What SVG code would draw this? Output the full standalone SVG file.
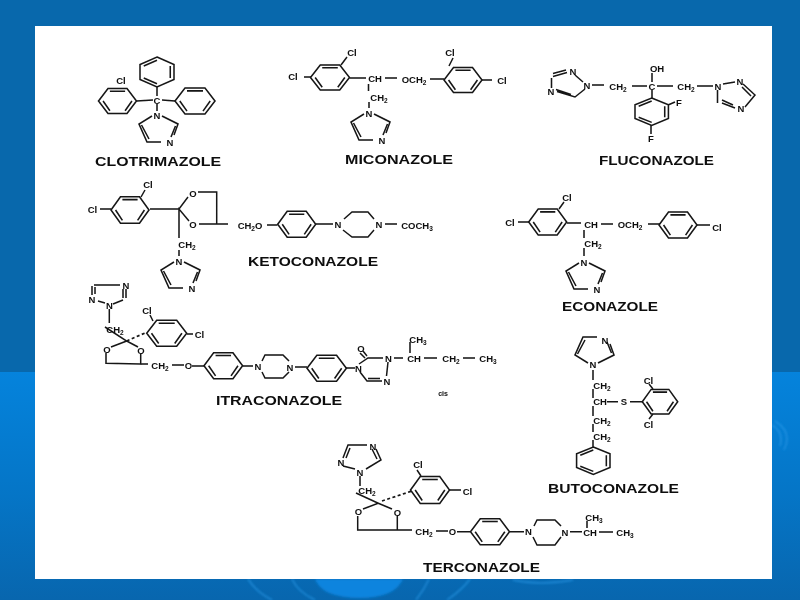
<svg xmlns="http://www.w3.org/2000/svg" xmlns:xlink="http://www.w3.org/1999/xlink" width="800" height="600" viewBox="0 0 800 600">
<defs>
<linearGradient id="low" x1="0" y1="0" x2="0" y2="1"><stop offset="0" stop-color="#0583dc"/><stop offset="0.55" stop-color="#0575c6"/><stop offset="1" stop-color="#0866ae"/></linearGradient>
<filter id="soft" x="-2%" y="-2%" width="104%" height="104%"><feGaussianBlur stdDeviation="0.4"/></filter>
<filter id="glow" x="-10%" y="-10%" width="120%" height="120%"><feGaussianBlur stdDeviation="1"/></filter>
<g id="hexF" class="b"><polygon points="-10,0 -5,-10 5,-10 10,0 5,10 -5,10"/><path d="M-4,-7.800H4M7.600,0L4,7.800M-4,7.800L-7.600,0"/></g>
<g id="hexP" class="b"><polygon points="0,-10 10,-5 10,5 0,10 -10,5 -10,-5"/><path d="M-7.800,-4L0,-7.800M7.800,-4V4M-7.800,4L0,7.800"/></g>
<g id="imid" class="b"><path d="M5,1L21,9L17,20M4,27H-10L-18,9L-5,1"/><path d="M-15.500,10L-8,24M18.500,11L14,22"/></g>
</defs>
<style>
.b,.b *{fill:none;stroke:#161616;stroke-width:1.55;vector-effect:non-scaling-stroke}
.w *{fill:none;stroke:#161616;stroke-width:1.5}
.d{fill:none;stroke:#161616;stroke-width:1.7;stroke-dasharray:3 2.500}
text{font-family:"Liberation Sans",Arial,sans-serif;fill:#0c0c0c;font-weight:700}
.a{font-size:9.500px;text-anchor:middle}
.t{font-size:12.500px}
.c{font-size:7px;text-anchor:middle}
</style>

<g id="background">
<rect width="800" height="600" fill="#0868ac"/>
<rect y="372" width="800" height="228" fill="url(#low)"/>
<g fill="none" stroke="#2a9ae8" stroke-width="1.500" opacity="0.7" filter="url(#glow)">
<path d="M248,579Q256,592 272,600M292,579Q298,592 315,600M429,579Q424,590 416,600M470,579Q462,590 447,600M513,580Q540,586 573,580"/>
<path d="M772,425Q784,432 780,446M775,421Q793,432 784,450"/>
</g>
<path d="M315,579Q322,598 360,598Q395,598 403,579Z" fill="#0b84de" filter="url(#glow)"/>
<rect x="35" y="26" width="737" height="553" fill="#ffffff"/>
</g>

<g id="structures" filter="url(#soft)">

<g id="clotrimazole">
<use xlink:href="#hexP" transform="translate(157,72) scale(1.7,1.5)"/>
<use xlink:href="#hexF" transform="translate(117.500,101) scale(1.9,1.25)"/>
<use xlink:href="#hexF" transform="translate(195,101) scale(2,1.3)"/>
<use xlink:href="#imid" transform="translate(157,115)"/>
<g class="w"><path d="M157,87V96M136.500,101L153,100M162,100L175,101M157,104V111"/></g>
<text class="a" x="157" y="104">C</text><text class="a" x="121" y="83.500">Cl</text>
<text class="a" x="157" y="118.500">N</text><text class="a" x="170" y="145.500">N</text>
<text class="t" x="95" y="165.500" textLength="126" lengthAdjust="spacingAndGlyphs">CLOTRIMAZOLE</text>
</g>

<g id="miconazole">
<use xlink:href="#hexF" transform="translate(330,77.500) scale(1.95,1.25)"/>
<use xlink:href="#hexF" transform="translate(463,80) scale(1.9,1.25)"/>
<use xlink:href="#imid" transform="translate(369,113)"/>
<g class="w"><path d="M349.500,78H366M385,78H397M430,79H444M304,77H311M341,65L347,57M482,80H492M368.500,84V91M369,102V108M449,66L453,58"/></g>
<text class="a" x="293" y="80">Cl</text><text class="a" x="352" y="56">Cl</text>
<text class="a" x="375" y="81.500">CH</text><text class="a" x="414" y="82.500">OCH<tspan font-size="6.500" dy="2">2</tspan></text>
<text class="a" x="450" y="56">Cl</text><text class="a" x="502" y="83.500">Cl</text>
<text class="a" x="379" y="100.500">CH<tspan font-size="6.500" dy="2">2</tspan></text>
<text class="a" x="369" y="116.500">N</text><text class="a" x="382" y="143.500">N</text>
<text class="t" x="345" y="163.500" textLength="108" lengthAdjust="spacingAndGlyphs">MICONAZOLE</text>
</g>

<g id="fluconazole">
<use xlink:href="#hexP" transform="translate(651.700,111.700) scale(1.67,1.37)"/>
<g class="w">
<path d="M553,76.500L567,72.500M553,73.500L566,70M551.500,78V88M575,75L583,82M585,89L575,97L557,91.500M556,89.500L571,94.500"/>
<path d="M592,85H604M632,86H647M657,86H673M697,86H713M652,73V82M652,90V98M668,105L675,102M651,125V134"/>
<path d="M723,84L735,82M743,84L755,95L745,107M742,87L751,96M735,108L722,103M733,105L722,100M717.500,90V103"/>
</g>
<text class="a" x="573" y="75">N</text><text class="a" x="551" y="95">N</text><text class="a" x="587" y="88.500">N</text>
<text class="a" x="618" y="89.500">CH<tspan font-size="6.500" dy="2">2</tspan></text>
<text class="a" x="652" y="90">C</text><text class="a" x="657" y="72">OH</text>
<text class="a" x="686" y="89.500">CH<tspan font-size="6.500" dy="2">2</tspan></text>
<text class="a" x="718" y="90">N</text><text class="a" x="740" y="84.500">N</text><text class="a" x="741" y="111.500">N</text>
<text class="a" x="679" y="105.500">F</text><text class="a" x="651" y="141.500">F</text>
<text class="t" x="599" y="165" textLength="115" lengthAdjust="spacingAndGlyphs">FLUCONAZOLE</text>
</g>

<g id="ketoconazole">
<use xlink:href="#hexF" transform="translate(130,210) scale(1.9,1.33)"/>
<use xlink:href="#hexF" transform="translate(296.700,224.300) scale(1.9,1.3)"/>
<use xlink:href="#imid" transform="translate(179,261)"/>
<g class="w">
<path d="M141,197L145,190M100,209H111M150,209H179L188,197M198,192H216.700V224M216.700,224H228M216.700,224H199M189,221L179,209V238M179,250V256M267,225H277.500M316,224H333M344,219L352,212H368L374,219M374,230L368,237H352L343,230M385,224H397"/>
</g>
<text class="a" x="148" y="187.500">Cl</text><text class="a" x="92.500" y="212.500">Cl</text>
<text class="a" x="193" y="196.500">O</text><text class="a" x="193" y="228">O</text>
<text class="a" x="250" y="228.500">CH<tspan font-size="6.500" dy="2">2</tspan><tspan dy="-2">O</tspan></text>
<text class="a" x="338" y="228">N</text><text class="a" x="379" y="228">N</text>
<text class="a" x="417" y="228.500">COCH<tspan font-size="6.500" dy="2">3</tspan></text>
<text class="a" x="187" y="247.500">CH<tspan font-size="6.500" dy="2">2</tspan></text>
<text class="a" x="179" y="264.500">N</text><text class="a" x="192" y="291.500">N</text>
<text class="t" x="248" y="266" textLength="130" lengthAdjust="spacingAndGlyphs">KETOCONAZOLE</text>
</g>

<g id="econazole">
<use xlink:href="#hexF" transform="translate(547.700,222) scale(1.9,1.3)"/>
<use xlink:href="#hexF" transform="translate(678,225) scale(1.9,1.3)"/>
<use xlink:href="#imid" transform="translate(584,262)"/>
<g class="w"><path d="M559,209L564,202M518,222H529M567,223H581M601,224H613M648,224H660M697,225H710M584,230V238M584,248V256"/></g>
<text class="a" x="567" y="201">Cl</text><text class="a" x="510" y="225.500">Cl</text>
<text class="a" x="591" y="227.500">CH</text><text class="a" x="630" y="227.500">OCH<tspan font-size="6.500" dy="2">2</tspan></text>
<text class="a" x="717" y="230.500">Cl</text>
<text class="a" x="593" y="246.500">CH<tspan font-size="6.500" dy="2">2</tspan></text>
<text class="a" x="584" y="265.500">N</text><text class="a" x="597" y="292.500">N</text>
<text class="t" x="562" y="311" textLength="96" lengthAdjust="spacingAndGlyphs">ECONAZOLE</text>
</g>

<g id="itraconazole">
<use xlink:href="#hexF" transform="translate(166.700,333.300) scale(2,1.3)"/>
<use xlink:href="#hexF" transform="translate(223.300,365.700) scale(1.93,1.3)"/>
<use xlink:href="#hexF" transform="translate(326.700,368.300) scale(1.97,1.3)"/>
<g class="w">
<path d="M94,285H120M92,286V295M95,287V294M98,301L105,303M123,289V298M126,289V298M123,300L113,304M109.300,309V323"/>
<path d="M105,327L126.700,341L111,347M126.700,341L138,347M106,353V363.300L140.700,364V354"/>
<path d="M140.700,364H148M172,365H184M192,366H204M243,366H253M262,361L265,355H283L289,361M289,372L283,378H265L262,372M295,367H307M346,368H355"/>
<path d="M363,351L367,356M360,353L365,358M359,364L368,358H383M388,362L386.500,376M382,381H367L360,372M380,378.500H368M394,358H403M424,358H437M463,358H475M410,342V353M153,321L150,315M187,334H193"/>
</g>
<path class="d" d="M126.700,341L145,333"/>
<text class="a" x="126" y="289">N</text><text class="a" x="92" y="303">N</text><text class="a" x="109.500" y="308.500">N</text>
<text class="a" x="115" y="333">CH<tspan font-size="6.500" dy="2">2</tspan></text>
<text class="a" x="147" y="313.500">Cl</text><text class="a" x="199.500" y="337.500">Cl</text>
<text class="a" x="107" y="353">O</text><text class="a" x="141" y="353.500">O</text>
<text class="a" x="160" y="368.500">CH<tspan font-size="6.500" dy="2">2</tspan></text>
<text class="a" x="188.500" y="369">O</text>
<text class="a" x="258" y="370">N</text><text class="a" x="290" y="370.500">N</text><text class="a" x="358.500" y="372">N</text>
<text class="a" x="361" y="352">O</text><text class="a" x="388.500" y="362">N</text><text class="a" x="387" y="385">N</text>
<text class="a" x="414" y="361.500">CH</text><text class="a" x="451" y="361.500">CH<tspan font-size="6.500" dy="2">2</tspan></text>
<text class="a" x="488" y="361.500">CH<tspan font-size="6.500" dy="2">3</tspan></text>
<text class="a" x="418" y="342.500">CH<tspan font-size="6.500" dy="2">3</tspan></text>
<text class="c" x="443" y="396">cis</text>
<text class="t" x="216" y="404.500" textLength="126" lengthAdjust="spacingAndGlyphs">ITRACONAZOLE</text>
</g>

<g id="butoconazole">
<use xlink:href="#imid" transform="translate(593,364) scale(1,-1)"/>
<use xlink:href="#hexF" transform="translate(660,401.700) scale(1.77,1.23)"/>
<use xlink:href="#hexP" transform="translate(593.300,460.700) scale(1.67,1.37)"/>
<g class="w"><path d="M593,370V380M593,389V398M593,406V416M593,424V432M593,440V447M607,401.700H618M630,401.700H642M649,384L653,389M649,419L653,414"/></g>
<text class="a" x="593" y="367.500">N</text><text class="a" x="605" y="343.500">N</text>
<text class="a" x="602" y="389">CH<tspan font-size="6.500" dy="2">2</tspan></text>
<text class="a" x="600" y="405">CH</text><text class="a" x="624" y="405">S</text>
<text class="a" x="648.500" y="383.500">Cl</text><text class="a" x="648.500" y="427.500">Cl</text>
<text class="a" x="602" y="423.500">CH<tspan font-size="6.500" dy="2">2</tspan></text>
<text class="a" x="602" y="439.500">CH<tspan font-size="6.500" dy="2">2</tspan></text>
<text class="t" x="548" y="492.500" textLength="131" lengthAdjust="spacingAndGlyphs">BUTOCONAZOLE</text>
</g>

<g id="terconazole">
<use xlink:href="#hexF" transform="translate(430,490) scale(1.95,1.35)"/>
<use xlink:href="#hexF" transform="translate(490,531.700) scale(1.95,1.3)"/>
<g class="w">
<path d="M343,458L348,445H367M346,458L350,448M343,466L355,469M376,449L381,460L366,469M372,449L377,459M360,476V486"/>
<path d="M356,493L378.300,503.300L363,509M378.300,503.300L392,509M357.700,516V530H397.300V516M397.300,530H412M436,531H448M457,531.700H470M510,531.700H524M534,526L537,520H555L561,526M561,537L555,545H537L533,537M570,531.700H582M599,532H613M587,521V528M421,476L417,470M449,490H461"/>
</g>
<path class="d" d="M382,501L412,491"/>
<text class="a" x="373" y="449.500">N</text><text class="a" x="341" y="466">N</text><text class="a" x="360" y="475.500">N</text>
<text class="a" x="367" y="494">CH<tspan font-size="6.500" dy="2">2</tspan></text>
<text class="a" x="418" y="468">Cl</text><text class="a" x="467.500" y="494.500">Cl</text>
<text class="a" x="358.500" y="515">O</text><text class="a" x="397.500" y="515.500">O</text>
<text class="a" x="424" y="534.500">CH<tspan font-size="6.500" dy="2">2</tspan></text>
<text class="a" x="452.500" y="535">O</text><text class="a" x="528.500" y="535">N</text><text class="a" x="565" y="535.500">N</text>
<text class="a" x="590" y="535.500">CH</text><text class="a" x="625" y="536">CH<tspan font-size="6.500" dy="2">3</tspan></text>
<text class="a" x="594" y="520.500">CH<tspan font-size="6.500" dy="2">3</tspan></text>
<text class="t" x="423" y="572" textLength="117" lengthAdjust="spacingAndGlyphs">TERCONAZOLE</text>
</g>

</g>
</svg>
